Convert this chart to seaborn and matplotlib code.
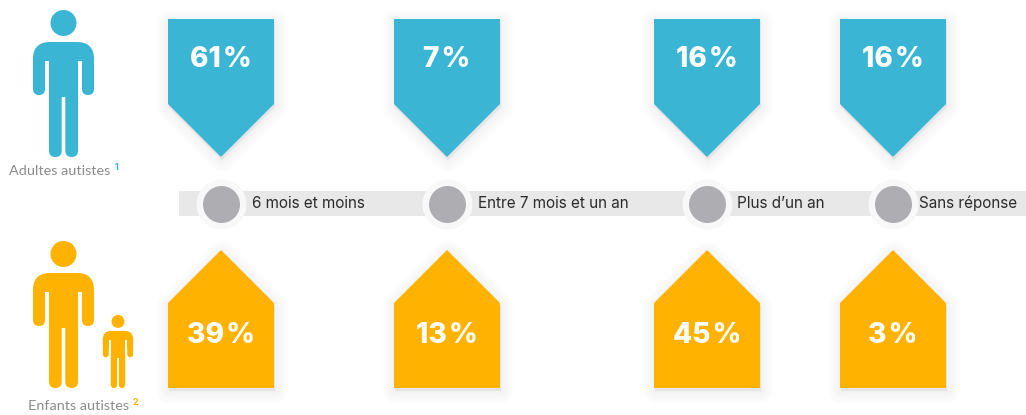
import matplotlib
matplotlib.use("Agg")
import matplotlib.pyplot as plt
from matplotlib.patches import Polygon, Circle, FancyBboxPatch, Rectangle
import seaborn as sns
import pandas as pd

categories = ["6 mois et moins", "Entre 7 mois et un an", "Plus d’un an", "Sans réponse"]
adultes = [61, 7, 16, 16]
enfants = [39, 13, 45, 3]
group_labels = ["Adultes autistes", "Enfants autistes"]
group_notes = ["1", "2"]

BLUE, ORANGE = "#3AB6D4", "#FFB300"
CENTERS = [221, 447, 707, 893]
LABEL_OFFSETS = [31, 31, 30, 26]
HALF = 53

sns.set_theme(style="white")
plt.rcParams["font.family"] = ["Inter", "DejaVu Sans"]

fig = plt.figure(figsize=(10.26, 4.15), dpi=100)
ax = fig.add_axes([0, 0, 1, 1])
ax.set_xlim(0, 1026)
ax.set_ylim(415, 0)
ax.axis("off")


def rbar(x0, y0, x1, y1, r, color, z=3):
    ax.add_patch(FancyBboxPatch((x0 + r, y0 + r), x1 - x0 - 2 * r, y1 - y0 - 2 * r,
                                boxstyle=f"round,pad={r},rounding_size={r}",
                                fc=color, ec="none", zorder=z))


def rect(x0, y0, x1, y1, color, z=3):
    ax.add_patch(Rectangle((x0, y0), x1 - x0, y1 - y0, fc=color, ec="none", zorder=z))


def person(cx, top, s, color):
    """Pictogram; s = 1 is the tall figure, 147 px high."""
    ax.add_patch(Circle((cx, top + 13 * s), 13 * s, fc=color, ec="none", zorder=3))
    # shoulders
    rbar(cx - 30.5 * s, top + 32 * s, cx + 30.5 * s, top + 66 * s, 17 * s, color)
    # white slots between arms and torso
    rect(cx - 18.5 * s, top + 51 * s, cx - 14.5 * s, top + 67 * s, "white", z=3.1)
    rect(cx + 14.5 * s, top + 51 * s, cx + 18.5 * s, top + 67 * s, "white", z=3.1)
    # arms
    rbar(cx - 30.5 * s, top + 45 * s, cx - 18.5 * s, top + 85 * s, 6 * s, color, z=3.2)
    rbar(cx + 18.5 * s, top + 45 * s, cx + 30.5 * s, top + 85 * s, 6 * s, color, z=3.2)
    # torso
    rect(cx - 14.5 * s, top + 45 * s, cx + 14.5 * s, top + 87 * s, color, z=3.2)
    # legs
    rbar(cx - 14.5 * s, top + 75 * s, cx - 1.8 * s, top + 147 * s, 6.3 * s, color, z=3.2)
    rbar(cx + 1.8 * s, top + 75 * s, cx + 14.5 * s, top + 147 * s, 6.3 * s, color, z=3.2)


def house(cx, pts, color):
    xy = [(cx + dx, y) for dx, y in pts]
    for lw in (18, 15, 12, 9, 6, 3, 1):
        ax.add_patch(Polygon([(x + 1, y + 3) for x, y in xy], fc="black", ec="black", lw=lw,
                             alpha=.009, joinstyle="round", zorder=1))
    ax.add_patch(Polygon(xy, fc=color, ec="none", zorder=2))


# Band
rect(179, 191, 1026, 216, "#E8E8E8", z=1.5)

# Category circles
df = pd.DataFrame({"x": CENTERS, "y": [203.5] * 4, "cat": categories})
sns.scatterplot(data=df, x="x", y="y", s=1296, color="#F8F8F8", linewidth=0, ax=ax, zorder=2, legend=False)
sns.scatterplot(data=df, x="x", y="y", s=710, color="#AEAEB2", linewidth=0, ax=ax, zorder=3, legend=False)
ax.set_xlim(0, 1026)
ax.set_ylim(415, 0)
ax.set_xlabel("")
ax.set_ylabel("")

for cx, off, cat, a, e in zip(CENTERS, LABEL_OFFSETS, categories, adultes, enfants):
    house(cx, [(-HALF, 19), (HALF, 19), (HALF, 104), (0, 157), (-HALF, 104)], BLUE)
    house(cx, [(0, 250), (HALF, 303), (HALF, 388), (-HALF, 388), (-HALF, 303)], ORANGE)
    ax.text(cx, 59.5, f"{a}\u200a%", color="white", fontsize=20.2, fontweight="heavy",
            ha="center", va="center", zorder=4)
    ax.text(cx, 335.5, f"{e}\u200a%", color="white", fontsize=20.2, fontweight="heavy",
            ha="center", va="center", zorder=4)
    ax.text(cx + off, 203.5, cat, color="#2B2B2B", fontsize=11, ha="left", va="center", zorder=4)

# Pictograms
person(63.5, 10, 1, BLUE)
person(63.5, 241, 1, ORANGE)
person(118, 315, .497, ORANGE)

# Captions
ax.text(9, 171, group_labels[0], color="#8C8C8C", fontsize=10.4, fontweight="normal",
        ha="left", va="center", family=["Lato", "DejaVu Sans"])
ax.text(114.5, 167.5, group_notes[0], color=BLUE, fontsize=6.5, fontweight="bold", ha="left", va="center")
ax.text(28, 406, group_labels[1], color="#8C8C8C", fontsize=10.4, fontweight="normal",
        ha="left", va="center", family=["Lato", "DejaVu Sans"])
ax.text(132.5, 402.5, group_notes[1], color=ORANGE, fontsize=6.5, fontweight="bold", ha="left", va="center")

fig.savefig("out.png", dpi=100, facecolor="white")
